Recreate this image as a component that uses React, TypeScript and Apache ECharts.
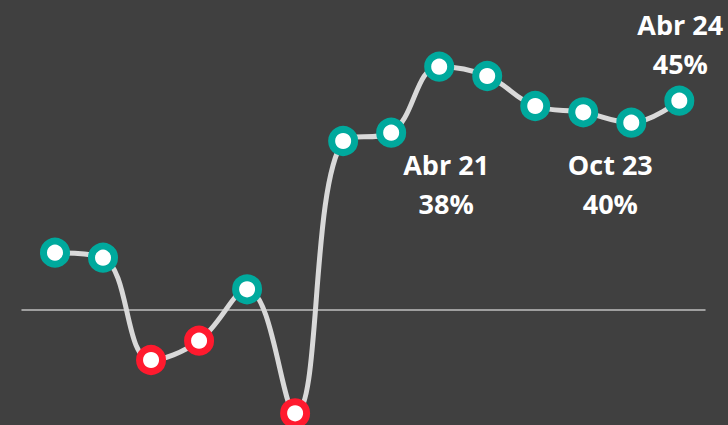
import React, { useEffect, useRef } from "react";
import * as echarts from "echarts";

// Period index (semiannual points) and values
const periods = ["P1", "P2", "P3", "P4", "P5", "P6", "P7", "Abr 21", "P9", "P10", "P11", "P12", "Oct 23", "Abr 24"];
const values = [5.68, 5.18, -5.05, -3.12, 2.02, -10.38, 16.85, 17.68, 24.28, 23.35, 20.35, 19.72, 18.68, 20.88];

// Annotations: index of the point, text lines
const annotIndex = [7, 12, 13];
const annotTitle = ["Abr 21", "Oct 23", "Abr 24"];
const annotValue = ["38%", "40%", "45%"];
const annotOffset: [number, number][] = [[55, 51], [-21, 61], [1, -57]];

const TEAL = "#00A99D";
const RED = "#FF1A2E";

export default function App() {
  const ref = useRef<HTMLDivElement>(null);
  useEffect(() => {
    if (!ref.current) return;
    const chart = echarts.init(ref.current, undefined, { renderer: "svg" });
    const data = values.map((v, i) => {
      const k = annotIndex.indexOf(i);
      const item: any = {
        value: [i, v],
        name: periods[i],
        itemStyle: { color: "#FFFFFF", borderColor: v >= 0 ? TEAL : RED, borderWidth: 7 },
      };
      if (k >= 0) {
        item.label = {
          show: true,
          position: "inside",
          offset: annotOffset[k],
          formatter: annotTitle[k] + "\n" + annotValue[k],
          color: "#FFFFFF",
          fontFamily: "Open Sans",
          fontWeight: "bold",
          fontSize: 27,
          lineHeight: 39,
          align: "center",
        };
      }
      return item;
    });
    chart.setOption({
      animation: false,
      backgroundColor: "#404040",
      grid: { left: 22, right: 23, top: 0, bottom: 0 },
      xAxis: {
        type: "value",
        min: -0.687,
        max: 13.535,
        axisLine: { show: true, onZero: true, lineStyle: { color: "#BFBFBF", width: 1.5 } },
        axisTick: { show: false },
        axisLabel: { show: false },
        splitLine: { show: false },
      },
      yAxis: {
        type: "value",
        min: -11.55,
        max: 30.95,
        show: false,
        splitLine: { show: false },
      },
      series: [
        {
          type: "line",
          smooth: 0.4,
          data,
          symbol: "circle",
          symbolSize: 23,
          lineStyle: { color: "#D9D9D9", width: 5 },
          label: { show: false },
          z: 3,
        },
      ],
    });
    return () => chart.dispose();
  }, []);
  return (
    <div
      ref={ref}
      style={{ position: "fixed", left: 0, top: 0, width: 728, height: 425, background: "#404040" }}
    />
  );
}
